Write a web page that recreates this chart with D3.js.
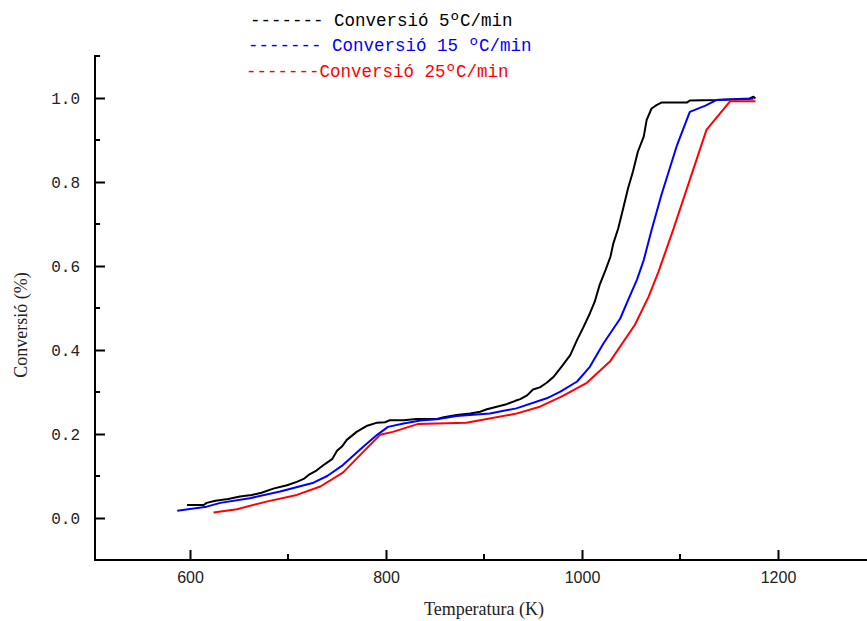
<!DOCTYPE html>
<html>
<head>
<meta charset="utf-8">
<script src="https://cdn.jsdelivr.net/npm/d3@7"></script>
<style>
  body { margin: 0; background: #fff; }
  svg { display: block; }
</style>
</head>
<body>
<div id="chart"></div>
<script>
// Temperatura (K) and conversion
const temp5 = [597, 614, 617, 626, 639, 651, 663, 673, 685, 699, 709, 716, 722, 729, 738, 745, 750, 755, 760, 770, 780, 791, 799, 804, 818, 831, 852, 859, 872, 886, 896, 903, 913, 923, 932, 937, 944, 950, 957, 964, 971, 979, 988, 995, 1001, 1008, 1013, 1018, 1024, 1029, 1032, 1037, 1042, 1047, 1052, 1057, 1063, 1066, 1071, 1076, 1081, 1107, 1110, 1137, 1171, 1175, 1177];
const conv5 = [0.031, 0.031, 0.036, 0.041, 0.045, 0.051, 0.055, 0.060, 0.070, 0.078, 0.086, 0.093, 0.104, 0.113, 0.129, 0.140, 0.160, 0.170, 0.186, 0.205, 0.219, 0.227, 0.228, 0.233, 0.233, 0.236, 0.236, 0.240, 0.245, 0.249, 0.253, 0.259, 0.265, 0.271, 0.279, 0.283, 0.292, 0.306, 0.311, 0.322, 0.336, 0.360, 0.388, 0.424, 0.452, 0.487, 0.515, 0.555, 0.590, 0.622, 0.654, 0.690, 0.737, 0.785, 0.825, 0.872, 0.908, 0.948, 0.975, 0.983, 0.989, 0.989, 0.994, 0.995, 0.999, 1.003, 0.999];

const temp15 = [587, 617, 631, 661, 692, 726, 740, 756, 777, 791, 802, 818, 835, 855, 872, 906, 933, 964, 978, 995, 1008, 1022, 1039, 1047, 1056, 1063, 1071, 1081, 1097, 1110, 1126, 1137, 1175];
const conv15 = [0.017, 0.027, 0.036, 0.047, 0.063, 0.084, 0.100, 0.126, 0.170, 0.198, 0.217, 0.225, 0.232, 0.236, 0.243, 0.249, 0.261, 0.285, 0.301, 0.325, 0.360, 0.416, 0.475, 0.519, 0.567, 0.614, 0.686, 0.769, 0.888, 0.967, 0.982, 0.995, 0.998];

const temp25 = [624, 648, 678, 709, 733, 756, 777, 794, 807, 833, 882, 932, 957, 979, 1005, 1029, 1054, 1068, 1078, 1093, 1127, 1151, 1177];
const conv25 = [0.013, 0.021, 0.039, 0.055, 0.075, 0.108, 0.158, 0.198, 0.205, 0.224, 0.227, 0.248, 0.265, 0.289, 0.322, 0.374, 0.460, 0.527, 0.586, 0.686, 0.924, 0.992, 0.992];

const seriesNames = ["------- Conversió 5ºC/min", "------- Conversió 15 ºC/min", "-------Conversió 25ºC/min"];
const seriesColors = ["#000000", "#0000ff", "#ff0000"];

const xTicks = [600, 800, 1000, 1200];
const xMinor = [700, 900, 1100];
const yTicks = [0, 0.2, 0.4, 0.6, 0.8, 1.0];
const yMinor = [0.1, 0.3, 0.5, 0.7, 0.9];

const width = 867, height = 621;
const svg = d3.select("#chart").append("svg")
    .attr("width", width)
    .attr("height", height);

const x = d3.scaleLinear().domain([600, 1200]).range([190, 778]);
const y = d3.scaleLinear().domain([0, 1]).range([518, 98]);

const axisX = 95, axisY = 560, axisTop = 55;
const monoFont = "'Courier New', 'Liberation Mono', monospace";

// axis lines
svg.append("line")
    .attr("x1", axisX).attr("x2", axisX)
    .attr("y1", axisTop).attr("y2", axisY + 1)
    .attr("stroke", "#000").attr("stroke-width", 2);
svg.append("line")
    .attr("x1", axisX).attr("x2", width)
    .attr("y1", axisY).attr("y2", axisY)
    .attr("stroke", "#000").attr("stroke-width", 2);
// little cap at the top of y axis
svg.append("line")
    .attr("x1", axisX).attr("x2", axisX + 5)
    .attr("y1", axisTop + 1).attr("y2", axisTop + 1)
    .attr("stroke", "#000").attr("stroke-width", 2);

// y axis ticks (inward)
const yAxis = svg.append("g")
    .attr("transform", `translate(${axisX},0)`)
    .call(d3.axisLeft(y).tickValues(yTicks).tickFormat(d3.format(".1f"))
        .tickSizeInner(-10).tickSizeOuter(0).tickPadding(15));
yAxis.select(".domain").remove();
yAxis.selectAll("line").attr("stroke-width", 2);
yAxis.selectAll("text")
    .attr("font-family", monoFont)
    .attr("font-size", 16)
    .attr("fill", "#222");

svg.append("g").selectAll("line")
    .data(yMinor)
    .enter().append("line")
    .attr("x1", axisX).attr("x2", axisX + 5)
    .attr("y1", d => y(d)).attr("y2", d => y(d))
    .attr("stroke", "#000").attr("stroke-width", 2);

// x axis ticks (inward)
const xAxis = svg.append("g")
    .attr("transform", `translate(0,${axisY})`)
    .call(d3.axisBottom(x).tickValues(xTicks).tickFormat(d3.format("d"))
        .tickSizeInner(-10).tickSizeOuter(0).tickPadding(12));
xAxis.select(".domain").remove();
xAxis.selectAll("line").attr("stroke-width", 2);
xAxis.selectAll("text")
    .attr("font-family", "'Liberation Sans Narrow', 'Liberation Sans', sans-serif")
    .attr("font-size", 16)
    .attr("fill", "#222");

svg.append("g").selectAll("line")
    .data(xMinor)
    .enter().append("line")
    .attr("x1", d => x(d)).attr("x2", d => x(d))
    .attr("y1", axisY).attr("y2", axisY - 6)
    .attr("stroke", "#000").attr("stroke-width", 2);

// axis titles
svg.append("text")
    .attr("x", 484).attr("y", 615)
    .attr("text-anchor", "middle")
    .attr("font-family", "'Liberation Sans Narrow', 'Liberation Serif', serif")
    .attr("font-size", 18)
    .attr("fill", "#222")
    .text("Temperatura (K)");

svg.append("text")
    .attr("transform", "translate(27,325) rotate(-90)")
    .attr("text-anchor", "middle")
    .attr("font-family", "'Liberation Sans Narrow', 'Liberation Serif', serif")
    .attr("font-size", 18)
    .attr("fill", "#222")
    .text("Conversió (%)");

// curves
const line = d3.line()
    .x(d => x(d[0]))
    .y(d => y(d[1]));

const series = [
    d3.zip(temp5, conv5),
    d3.zip(temp15, conv15),
    d3.zip(temp25, conv25)
];

svg.append("g").selectAll("path")
    .data(series)
    .enter().append("path")
    .attr("d", line)
    .attr("fill", "none")
    .attr("stroke", (d, i) => seriesColors[i])
    .attr("stroke-width", 2)
    .attr("stroke-linejoin", "round");

// legend, drawn as text lines like the original
const legendX = [250, 248, 246];
const legendY = [26, 51, 77];
svg.append("g").selectAll("text")
    .data(seriesNames)
    .enter().append("text")
    .attr("x", (d, i) => legendX[i])
    .attr("y", (d, i) => legendY[i])
    .attr("xml:space", "preserve")
    .style("white-space", "pre")
    .attr("font-family", monoFont)
    .attr("font-size", 17.5)
    .attr("fill", (d, i) => seriesColors[i])
    .text(d => d);
</script>
</body>
</html>
